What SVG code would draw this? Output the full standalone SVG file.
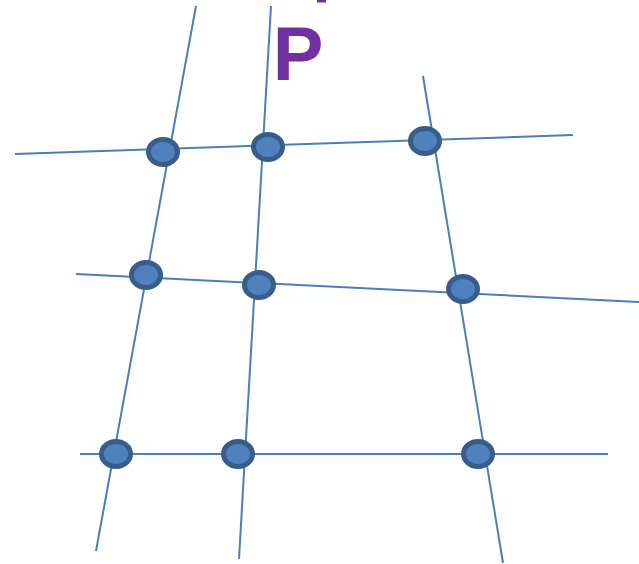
<svg xmlns="http://www.w3.org/2000/svg" width="639" height="564" viewBox="0 0 639 564">
<style>
.ln{stroke:#4A7EBB;stroke-width:2;fill:none}
.nd{fill:#4F81BD;stroke:#385D8A;stroke-width:5}
</style>
<rect width="639" height="564" fill="#fff"/>
<g id="connectors">
<line class="ln" x1="15" y1="154" x2="573" y2="135"/>
<line class="ln" x1="76" y1="274" x2="639" y2="302"/>
<line class="ln" x1="80" y1="454" x2="608" y2="454"/>
<line class="ln" x1="196" y1="6" x2="96" y2="551"/>
<line class="ln" x1="271" y1="6" x2="239" y2="559"/>
<line class="ln" x1="423" y1="76" x2="503" y2="563"/>
</g>
<g id="label">
<rect x="317" y="0" width="9" height="2.5" fill="#7030A0"/>
<text x="298" y="80" font-family="Liberation Sans, Arial, sans-serif" font-weight="bold" font-size="76" fill="#7030A0" text-anchor="middle">P</text>
</g>
<g id="n1"><ellipse class="nd" cx="163" cy="152" rx="14.5" ry="12.5"/></g>
<g id="n2"><ellipse class="nd" cx="268" cy="147" rx="14.5" ry="12.5"/></g>
<g id="n3"><ellipse class="nd" cx="425" cy="141" rx="14.5" ry="12.5"/></g>
<g id="n4"><ellipse class="nd" cx="146" cy="275" rx="14.5" ry="12.5"/></g>
<g id="n5"><ellipse class="nd" cx="259" cy="285" rx="14.5" ry="12.5"/></g>
<g id="n6"><ellipse class="nd" cx="463" cy="289" rx="14.5" ry="12.5"/></g>
<g id="n7"><ellipse class="nd" cx="116" cy="454" rx="14.5" ry="12.5"/></g>
<g id="n8"><ellipse class="nd" cx="238" cy="454" rx="14.5" ry="12.5"/></g>
<g id="n9"><ellipse class="nd" cx="478" cy="454" rx="14.5" ry="12.5"/></g>
</svg>
